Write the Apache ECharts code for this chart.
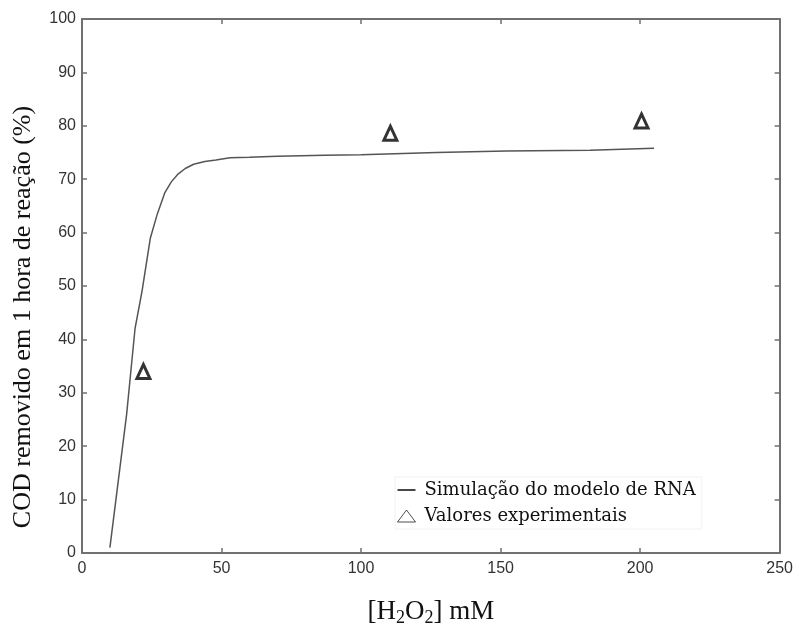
<!DOCTYPE html>
<html>
<head>
<meta charset="utf-8">
<script src="https://cdn.jsdelivr.net/npm/echarts@6/dist/echarts.min.js"></script>
<style>html,body{margin:0;padding:0;background:#fff;}#c{width:796px;height:632px;}</style>
</head>
<body>
<div id="c"></div>
<script>
// Simulated curve (RNA model)
var simX = [10, 16, 19, 21.5, 24.5, 27, 29.7, 32, 34.5, 37, 40, 44, 48, 53, 60, 70, 87, 100, 127, 152, 182, 205];
var simY = [1, 26, 42, 49, 59, 63.5, 67.5, 69.5, 71, 72, 72.8, 73.3, 73.6, 74, 74.1, 74.3, 74.5, 74.6, 75.0, 75.3, 75.4, 75.8];
// Experimental values
var expX = [22, 110.5, 200.5];
var expY = [34, 78.6, 80.9];
// Axis ticks
var xTicks = [0, 50, 100, 150, 200, 250];
var yTicks = [0, 10, 20, 30, 40, 50, 60, 70, 80, 90, 100];
var simName = 'Simulação do modelo de RNA';
var expName = 'Valores experimentais';

var simData = simX.map(function (x, i) { return [x, simY[i]]; });
var expData = expX.map(function (x, i) { return [x, expY[i]]; });

var axisColor = '#707070';
function xAx(pos, showLabel) {
  return {
    type: 'value', position: pos, min: xTicks[0], max: xTicks[xTicks.length - 1], interval: 50,
    axisLine: { show: true, onZero: false, lineStyle: { color: axisColor, width: 2 } },
    axisTick: { show: true, inside: true, length: 5, lineStyle: { color: axisColor, width: 1.5 } },
    axisLabel: { show: showLabel, margin: 8, color: '#333', fontFamily: 'Liberation Sans', fontSize: 16 },
    splitLine: { show: false }
  };
}
function yAx(pos, showLabel) {
  return {
    type: 'value', position: pos, min: yTicks[0], max: yTicks[yTicks.length - 1], interval: 10,
    axisLine: { show: true, onZero: false, lineStyle: { color: axisColor, width: 2 } },
    axisTick: { show: true, inside: true, length: 5, lineStyle: { color: axisColor, width: 1.5 } },
    axisLabel: { show: showLabel, margin: 6, color: '#333', fontFamily: 'Liberation Sans', fontSize: 16 },
    splitLine: { show: false }
  };
}
var xMain = xAx('bottom', true);
xMain.name = '{a|[H}{s|2}{a|O}{s|2}{a|] mM}';
xMain.nameLocation = 'middle';
xMain.nameGap = 44;
xMain.nameTextStyle = {
  color: '#111',
  rich: {
    a: { fontFamily: 'Liberation Serif', fontSize: 27, color: '#111', lineHeight: 30 },
    s: { fontFamily: 'Liberation Serif', fontSize: 18, color: '#111', lineHeight: 18, verticalAlign: 'bottom' }
  }
};

var chart = echarts.init(document.getElementById('c'), null, { renderer: 'canvas' });
chart.setOption({
  backgroundColor: '#fff',
  animation: false,
  grid: { left: 82, right: 16, top: 19, bottom: 62, containLabel: false },
  xAxis: [xMain, xAx('top', false)],
  yAxis: [yAx('left', true), yAx('right', false)],
  legend: {
    orient: 'vertical', left: 395, top: 477,
    itemWidth: 18, itemHeight: 12, itemGap: 8,
    backgroundColor: 'transparent',
    borderColor: '#f2f2f2', borderWidth: 1, padding: [4, 6, 4, 2],
    textStyle: { fontFamily: 'DejaVu Serif', fontSize: 18, color: '#111', padding: [0, 0, 0, 4] },
    data: [
      { name: simName, icon: 'path://M0,0 L10,0 L10,1 L0,1 Z', itemStyle: { color: '#333' } },
      { name: expName, icon: 'triangle', itemStyle: { color: '#fff', borderColor: '#222', borderWidth: 1 } }
    ]
  },
  series: [
    {
      name: simName, type: 'line', xAxisIndex: 0, yAxisIndex: 0,
      data: simData, symbol: 'none', smooth: false,
      lineStyle: { color: '#555', width: 1.5 }, itemStyle: { color: '#555' }
    },
    {
      name: expName, type: 'scatter', xAxisIndex: 0, yAxisIndex: 0,
      data: expData, symbol: 'triangle', symbolSize: [13, 14],
      itemStyle: { color: '#fff', borderColor: '#000', borderWidth: 3 }
    }
  ],
  graphic: [{
    type: 'text', x: 23, y: 317, rotation: Math.PI / 2,
    style: {
      text: 'COD removido em 1 hora de reação (%)',
      font: '26px "Liberation Serif"', fill: '#111', align: 'center', verticalAlign: 'middle'
    }
  }]
});
</script>
</body>
</html>
